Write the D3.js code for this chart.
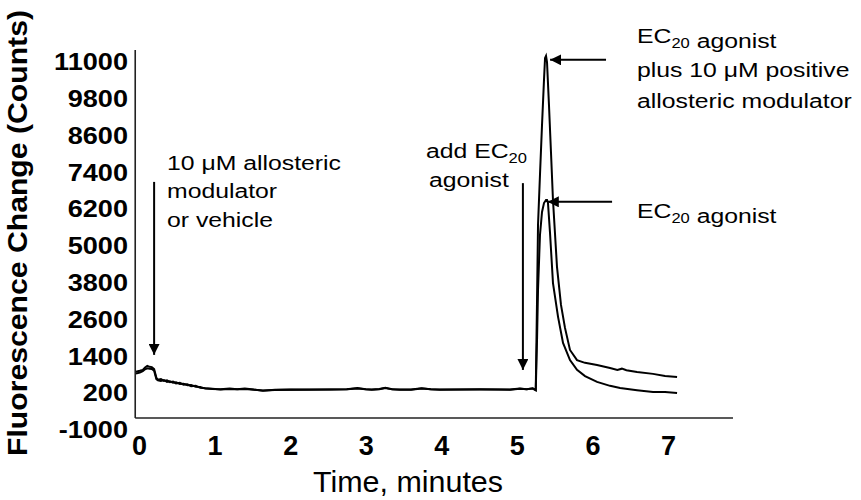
<!DOCTYPE html>
<html>
<head>
<meta charset="utf-8">
<script src="https://cdn.jsdelivr.net/npm/d3@7"></script>
<style>
  body { margin: 0; background: #fff; }
  svg { display: block; font-family: Arial, "Liberation Sans", sans-serif; }
</style>
</head>
<body>
<svg id="chart" width="861" height="500"></svg>
<script>
/********************************************************
 ********************* Data *****************************
 ********************************************************/
// time in minutes, fluorescence change in counts
var preTime = [-0.04, 0.01, 0.05, 0.08, 0.11, 0.14, 0.17, 0.20, 0.23, 0.25, 0.29, 0.33, 0.37, 0.41,
  0.45, 0.49, 0.54, 0.59, 0.64, 0.69, 0.75, 0.81, 0.88, 0.97, 1.08, 1.20, 1.30, 1.40, 1.52, 1.64,
  1.80, 2.00, 2.25, 2.53, 2.75, 2.89, 3.00, 3.08, 3.18, 3.26, 3.35, 3.45, 3.60, 3.74, 3.86, 3.98,
  4.25, 4.51, 4.75, 4.91, 5.04, 5.13, 5.21, 5.25];
var prePam = [900, 930, 960, 1040, 1090, 1060, 1050, 990, 700, 640, 660, 600, 620, 560,
  580, 520, 540, 480, 490, 430, 440, 380, 360, 340, 330, 350, 330, 350, 320, 280,
  310, 320, 315, 320, 330, 370, 330, 320, 340, 380, 330, 320, 320, 360, 330, 320,
  320, 325, 320, 320, 355, 330, 360, 300];
var preVehicle = [840, 870, 920, 980, 1010, 1000, 990, 930, 660, 620, 600, 630, 570, 590,
  540, 555, 500, 510, 460, 470, 410, 400, 350, 345, 320, 335, 325, 340, 310, 290,
  305, 315, 320, 320, 325, 355, 325, 315, 330, 365, 325, 315, 315, 350, 325, 315,
  318, 320, 318, 315, 345, 325, 350, 300];

// after agonist addition
var pamTime = [5.267, 5.280, 5.306, 5.333, 5.359, 5.373, 5.386, 5.399, 5.425, 5.452, 5.478, 5.531,
  5.584, 5.637, 5.703, 5.796, 5.902, 6.061, 6.233, 6.33, 6.39, 6.45, 6.590, 6.802, 6.961, 7.120];
var pamValue = [3240, 5690, 7320, 8950, 10410, 11130, 11200, 11000, 9600, 8030, 6500, 4320,
  3080, 2330, 1610, 1280, 1190, 1120, 1020, 960, 1000, 950, 890, 830, 760, 730];

var vehTime = [5.267, 5.280, 5.306, 5.333, 5.359, 5.386, 5.399, 5.412, 5.439, 5.478, 5.545, 5.611,
  5.703, 5.796, 5.902, 6.061, 6.233, 6.366, 6.590, 6.802, 6.961, 7.120];
var vehValue = [1940, 3570, 5360, 6110, 6400, 6500, 6500, 6400, 5420, 3790, 2690, 1840,
  1280, 960, 760, 570, 440, 370, 300, 240, 240, 210];

var xTicks = [0, 1, 2, 3, 4, 5, 6, 7];
var yTicks = [-1000, 200, 1400, 2600, 3800, 5000, 6200, 7400, 8600, 9800, 11000];

/********************************************************
 ********************* Chart ****************************
 ********************************************************/
var svg = d3.select("#chart");

var x = d3.scaleLinear().domain([0, 7]).range([139, 668]);
var y = d3.scaleLinear().domain([-1000, 11000]).range([430, 62]);

// axis lines sit a little off the label positions, as in the original
var axisX0 = -0.05, axisX1 = 7.86;
var axisY0 = -610, axisY1 = 11390;

svg.append("line")
  .attr("x1", x(axisX0)).attr("x2", x(axisX1))
  .attr("y1", y(axisY0)).attr("y2", y(axisY0))
  .attr("stroke", "#222").attr("stroke-width", 1.6);
svg.append("line")
  .attr("x1", x(axisX0)).attr("x2", x(axisX0))
  .attr("y1", y(axisY0)).attr("y2", y(axisY1))
  .attr("stroke", "#222").attr("stroke-width", 1.6);

var yAxis = svg.append("g")
  .attr("transform", "translate(128,0)")
  .call(d3.axisLeft(y).tickValues(yTicks).tickSize(0).tickPadding(0).tickFormat(function(d) { return d; }));
yAxis.select(".domain").remove();
yAxis.selectAll("text")
  .attr("x", 0)
  .attr("transform", "scale(1.13,1)")
  .style("font-size", "24px")
  .style("font-weight", "bold")
  .style("font-family", "Arial, 'Liberation Sans', sans-serif")
  .attr("fill", "#000");

var xAxis = svg.append("g")
  .attr("transform", "translate(0," + y(axisY0) + ")")
  .call(d3.axisBottom(x).tickValues(xTicks).tickSize(0).tickPadding(18).tickFormat(d3.format("d")));
xAxis.select(".domain").remove();
xAxis.selectAll("text")
  .style("font-size", "27px")
  .style("font-weight", "bold")
  .style("font-family", "Arial, 'Liberation Sans', sans-serif")
  .attr("fill", "#000");

// axis titles
svg.append("text")
  .attr("x", 408).attr("y", 492)
  .attr("text-anchor", "middle")
  .style("font-size", "29px")
  .attr("textLength", 190)
  .attr("lengthAdjust", "spacingAndGlyphs")
  .text("Time, minutes");

svg.append("text")
  .attr("transform", "translate(27,233) rotate(-90)")
  .attr("text-anchor", "middle")
  .style("font-size", "27px")
  .style("font-weight", "bold")
  .attr("textLength", 446)
  .attr("lengthAdjust", "spacingAndGlyphs")
  .text("Fluorescence Change (Counts)");

// traces
var line = d3.line()
  .x(function(d) { return x(d[0]); })
  .y(function(d) { return y(d[1]); });

var pamData = d3.zip(preTime.concat(pamTime), prePam.concat(pamValue));
var vehData = d3.zip(preTime.concat(vehTime), preVehicle.concat(vehValue));

svg.append("path").datum(vehData)
  .attr("d", line).attr("fill", "none")
  .attr("stroke", "#000").attr("stroke-width", 2);
svg.append("path").datum(pamData)
  .attr("d", line).attr("fill", "none")
  .attr("stroke", "#000").attr("stroke-width", 2);

/********************************************************
 ********************* Annotations **********************
 ********************************************************/
svg.append("defs").append("marker")
  .attr("id", "head")
  .attr("viewBox", "0 0 10 10")
  .attr("refX", 10).attr("refY", 5)
  .attr("markerWidth", 11).attr("markerHeight", 11)
  .attr("markerUnits", "userSpaceOnUse")
  .attr("orient", "auto")
  .append("path").attr("d", "M0,0L10,5L0,10Z").attr("fill", "#000");

var arrows = [
  [0.2, 7090, 0.2, 1450],
  [5.08, 7050, 5.08, 960],
  [6.18, 11070, 5.44, 11070],
  [6.26, 6440, 5.41, 6440]
];
svg.selectAll(".arrow").data(arrows).enter().append("line")
  .attr("class", "arrow")
  .attr("x1", function(d) { return x(d[0]); })
  .attr("y1", function(d) { return y(d[1]); })
  .attr("x2", function(d) { return x(d[2]); })
  .attr("y2", function(d) { return y(d[3]); })
  .attr("stroke", "#000").attr("stroke-width", 2)
  .attr("marker-end", "url(#head)");

function label(px, py, parts) {
  var t = svg.append("text")
    .attr("transform", "translate(" + px + "," + py + ") scale(1.18,1)")
    .style("font-size", "21px")
    .attr("fill", "#000");
  parts.forEach(function(p) {
    if (p.sub) {
      t.append("tspan").attr("dy", 5).style("font-size", "14px").text(p.sub);
      t.append("tspan").attr("dy", -5).text("");
    } else {
      t.append("tspan").text(p.t);
    }
  });
}

label(167, 170, [{t: "10 \u03bcM allosteric"}]);
label(167, 198, [{t: "modulator"}]);
label(167, 227, [{t: "or vehicle"}]);

label(426, 158, [{t: "add EC"}, {sub: "20"}]);
label(429, 187, [{t: "agonist"}]);

label(637, 43, [{t: "EC"}, {sub: "20"}, {t: " agonist"}]);
label(637, 77, [{t: "plus 10 \u03bcM positive"}]);
label(637, 108, [{t: "allosteric modulator"}]);

label(637, 218, [{t: "EC"}, {sub: "20"}, {t: " agonist"}]);
</script>
</body>
</html>
